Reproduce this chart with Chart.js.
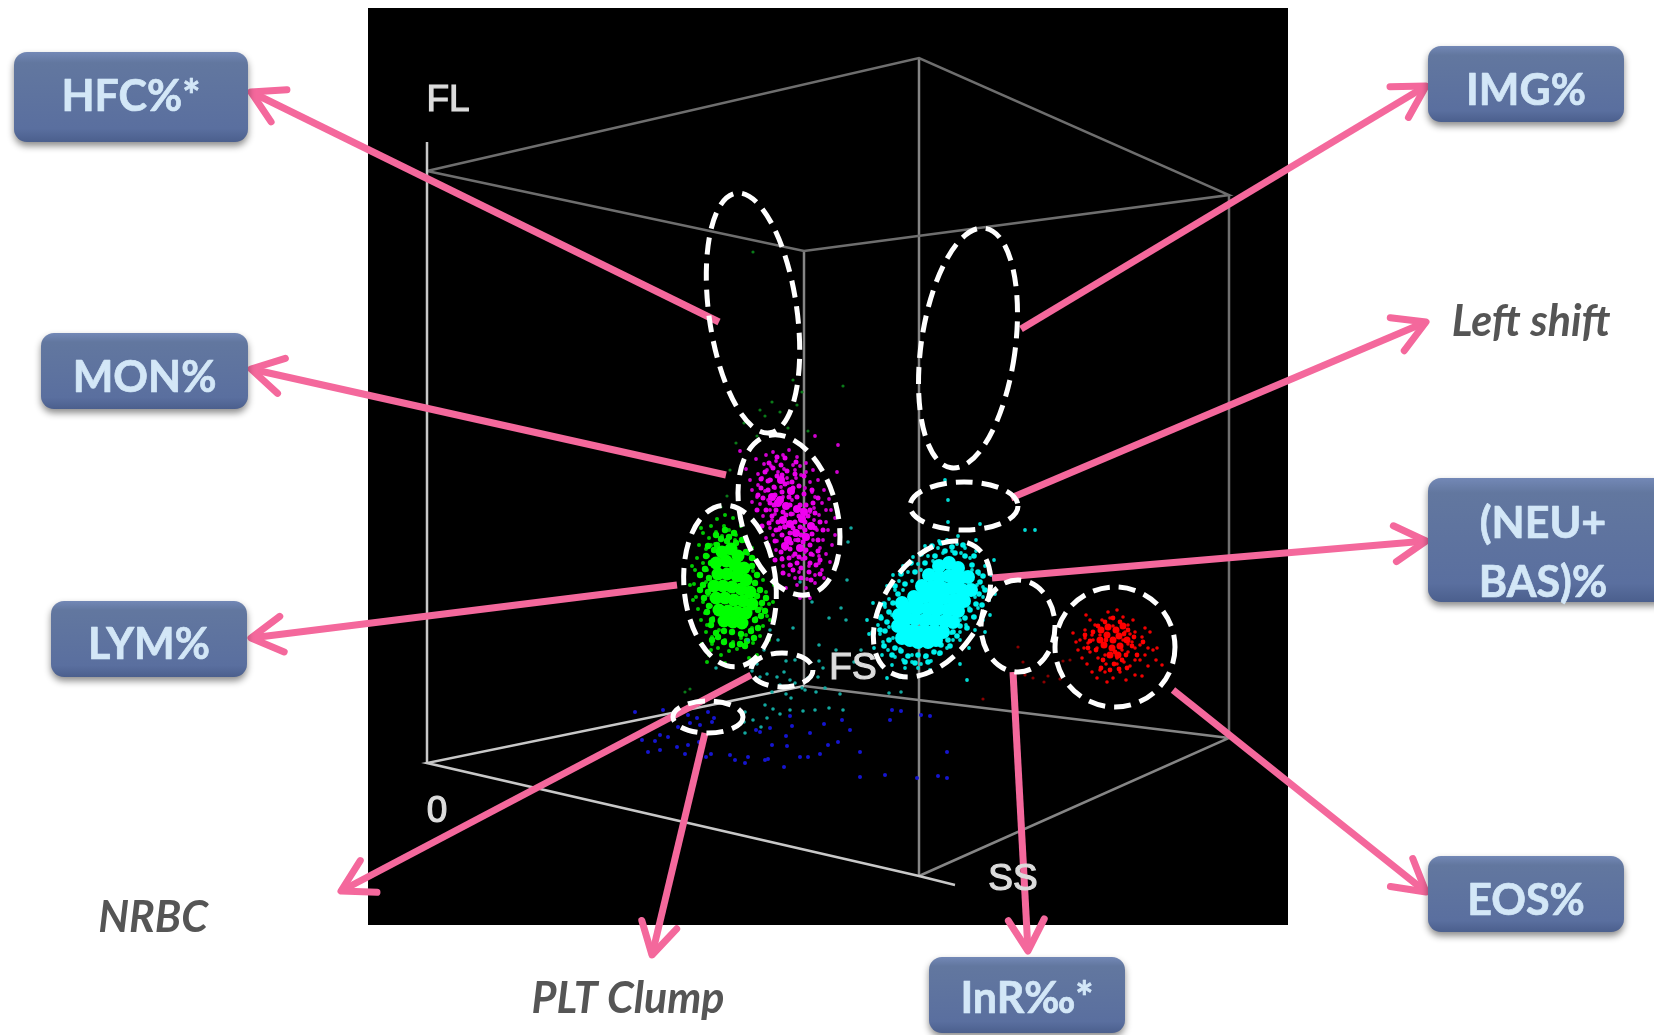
<!DOCTYPE html>
<html><head><meta charset="utf-8">
<style>html,body{margin:0;padding:0;background:#fff}canvas{display:block;filter:blur(0.6px)}</style>
<script src="https://cdn.jsdelivr.net/npm/chart.js@4/dist/chart.umd.min.js"></script>
</head><body><canvas id="c" width="1654" height="1035"></canvas>
<script>
const axisLabels=[['FL',448,101],['0',437,812],['FS',853,669],['SS',1013,880]];
const cubeBack=[[427,171],[919,58],[1229,195],[804,251],[427,171]];
const cubeEdgeA=[[919,58],[919,876]];
const cubeEdgeB=[[1229,195],[1229,738]];
const cubeEdgeC=[[804,251],[804,686]];
const flAxis=[[427,142],[427,763]];
const floorFar=[[804,686],[1229,738],[919,876]];
const floorNear=[[804,686],[427,763],[919,876],[955,885]];

const lymCore=[[722,552],[731,549],[738,556],[716,563],[726,561],[735,565],[744,568],[718,574],[727,574],[737,576],[746,580],[714,586],[723,586],[732,587],[741,589],[750,592],[716,598],[725,598],[734,600],[743,601],[752,604],[719,610],[728,611],[737,612],[746,613],[724,621],[733,622],[742,623]];
const lymMid=[[716,535],[725,530],[734,533],[742,540],[708,546],[717,545],[727,541],[736,543],[746,552],[752,558],[706,556],[711,563],[752,566],[757,575],[705,569],[709,578],[755,583],[760,590],[703,585],[708,592],[757,596],[762,603],[704,598],[709,606],[758,610],[761,616],[707,612],[712,620],[755,620],[758,628],[711,625],[716,633],[751,631],[754,638],[718,637],[724,631],[732,632],[741,634],[747,641],[724,642],[732,645],[740,644],[714,550],[721,539],[729,537],[700,590],[700,575],[766,598],[765,611],[712,640],[745,646]];
const lymPoints=[[711,526],[717,519],[725,515],[733,518],[741,526],[703,533],[709,538],[716,532],[722,536],[729,530],[736,535],[745,541],[752,548],[699,545],[706,549],[711,545],[748,554],[756,560],[760,568],[697,558],[703,563],[708,556],[753,571],[763,580],[695,570],[701,576],[707,570],[756,584],[766,592],[694,584],[700,589],[706,582],[758,596],[769,604],[696,597],[703,602],[708,595],[761,608],[767,616],[698,609],[705,613],[711,606],[756,618],[763,626],[701,620],[707,625],[713,618],[752,628],[760,636],[706,632],[712,637],[719,630],[746,635],[753,643],[712,644],[718,648],[725,640],[733,642],[741,638],[721,655],[729,651],[737,649],[745,647],[709,655],[702,644],[690,585],[773,602],[770,620],[769,640],[725,663],[707,662],[735,540],[724,526],[715,544],[693,600],[711,650],[749,658],[757,655],[692,566],[701,528],[774,585]];
const hfcPoints=[[753,252],[780,412],[802,392],[843,386],[744,423],[765,416],[788,428],[772,402],[797,405],[736,443],[727,496],[721,507],[730,470],[808,431],[793,380],[786,420],[757,436],[760,410],[685,692],[690,689]];

const monCore=[[781,480],[791,491],[778,503],[786,506],[797,509],[783,520],[790,524],[802,519],[811,526],[796,533],[806,537],[788,540],[800,548],[785,546],[780,500],[772,497],[804,512]];
const monMid=[[765,472],[773,468],[781,465],[787,471],[795,474],[770,480],[777,476],[785,484],[792,482],[799,486],[761,488],[768,490],[774,487],[782,492],[789,497],[797,497],[804,494],[763,498],[770,503],[776,510],[783,512],[791,514],[799,516],[806,505],[813,503],[766,510],[772,516],[778,522],[785,527],[793,528],[800,527],[808,516],[815,513],[769,523],[776,530],[782,535],[790,533],[798,540],[805,530],[812,534],[820,522],[823,530],[775,541],[781,552],[790,549],[795,554],[803,542],[810,545],[818,540],[782,559],[789,558],[797,563],[805,558],[811,554],[818,551],[793,570],[801,568],[809,572],[816,565],[801,578],[811,580],[820,574],[777,457],[769,463],[761,479],[758,495],[785,458],[796,462],[804,476],[812,490],[818,498],[806,550],[783,573],[775,560],[768,545],[762,526],[757,510],[790,505],[800,505],[810,510],[786,515],[795,522],[775,495],[768,481],[782,475],[793,488],[805,522],[815,528],[801,535],[791,543],[780,528],[774,505],[799,557],[810,563],[790,565],[820,560]];
const monPoints=[[773,452],[767,470],[776,461],[783,455],[789,450],[797,457],[806,463],[813,470],[756,459],[762,478],[750,480],[752,490],[758,485],[771,480],[784,469],[793,465],[801,475],[810,482],[818,480],[824,490],[829,499],[757,497],[765,491],[770,510],[760,504],[752,502],[763,516],[772,520],[779,530],[770,528],[766,538],[777,541],[785,549],[793,556],[802,559],[809,566],[819,563],[826,554],[832,545],[823,540],[817,530],[826,522],[835,518],[814,508],[822,503],[831,510],[819,515],[815,497],[805,488],[796,478],[787,478],[778,472],[771,466],[766,455],[781,487],[792,500],[802,510],[810,512],[773,535],[782,558],[791,565],[799,572],[807,579],[815,575],[822,570],[830,562],[797,585],[806,588],[815,583],[789,575],[783,566],[776,550],[769,547],[813,555],[820,548],[805,552],[795,540],[784,526],[775,514],[768,500],[800,466],[812,492],[826,510],[828,530],[835,535],[813,540],[803,528],[793,514],[783,497],[775,488],[764,464],[758,474],[746,469],[740,451],[815,436],[838,445],[837,472],[795,470],[788,483],[806,472],[814,520],[819,556],[795,578],[786,588],[824,578],[810,598],[800,598]];

const neuCore=[[939,566],[949,563],[958,568],[929,575],[939,577],[949,576],[959,579],[968,577],[922,586],[932,587],[942,588],[952,588],[962,590],[971,590],[914,597],[924,597],[934,598],[944,598],[954,600],[964,601],[908,608],[918,608],[928,609],[938,609],[948,610],[958,611],[905,619],[915,619],[925,620],[935,620],[945,621],[953,622],[906,630],[914,631],[924,631],[934,631],[943,632],[910,640],[918,642],[928,642],[936,640],[902,603],[899,615],[898,626],[902,638]];
const neuMid=[[945,551],[955,553],[965,556],[935,556],[925,563],[915,572],[972,565],[978,572],[980,582],[905,584],[898,594],[979,594],[976,604],[970,610],[893,603],[889,612],[965,618],[960,626],[887,622],[885,631],[953,632],[948,640],[889,640],[895,648],[941,645],[934,652],[901,651],[908,656],[918,655],[926,656],[952,547],[963,545],[932,546],[921,554],[911,563],[901,574],[895,586],[884,604],[881,618],[880,630],[884,646],[892,655],[905,662],[915,663],[928,662],[940,653],[950,646],[957,636],[967,628],[974,617],[982,605],[985,590],[983,576],[974,556],[941,543]];
const neuPoints=[[947,540],[957,544],[965,548],[976,551],[938,548],[928,556],[918,564],[908,572],[899,581],[895,590],[889,599],[885,607],[881,616],[878,625],[880,634],[883,642],[888,650],[895,657],[903,660],[912,662],[921,664],[931,661],[939,654],[947,648],[953,640],[960,632],[966,625],[973,617],[978,608],[983,597],[983,587],[979,574],[985,566],[970,558],[961,553],[952,551],[943,553],[933,561],[921,570],[912,581],[903,590],[897,603],[892,615],[889,627],[893,638],[900,649],[912,655],[925,657],[940,645],[951,633],[960,620],[969,608],[975,597],[977,585],[972,570],[887,590],[873,603],[867,620],[869,634],[874,648],[882,666],[887,678],[900,677],[960,664],[967,680],[969,648],[985,632],[990,615],[989,600],[995,594],[1025,530],[1035,530],[948,522],[980,524],[948,500],[945,480],[994,560],[887,586],[876,615],[882,655],[892,665],[905,668],[918,668],[930,670],[960,640],[975,630],[983,620],[991,575],[976,540],[958,536],[939,541],[925,546],[913,557],[903,566],[893,575]];
const scatterTeal=[[851,528],[848,542],[847,580],[846,620],[800,582],[793,628],[812,602],[829,618],[841,608],[819,645],[795,660],[823,668],[808,678],[836,650],[854,662],[861,650],[872,632],[889,693],[901,692],[819,661],[818,677],[784,672],[790,680],[795,683],[802,688],[786,694],[791,698],[805,690],[816,692],[825,688],[840,694],[843,710],[829,708],[815,710],[803,711],[790,710],[780,714],[765,705],[767,718],[753,720],[761,727],[745,712],[744,722],[745,733],[773,709],[707,652],[716,668],[748,640],[757,664],[770,630],[778,640],[764,650],[752,671],[760,677],[767,674],[777,677],[780,685],[772,692],[786,661]];

const eosCore=[[1113,640],[1107,635],[1119,636],[1104,645],[1112,648],[1120,646],[1116,630],[1108,627],[1123,626],[1100,640],[1127,640],[1110,655],[1118,655],[1101,630]];
const eosMid=[[1113,618],[1120,622],[1105,622],[1098,626],[1128,630],[1134,637],[1093,632],[1090,641],[1132,646],[1096,650],[1126,655],[1103,660],[1114,664],[1122,660],[1137,655],[1088,648],[1110,670],[1119,669],[1127,668],[1101,668],[1106,640],[1124,634],[1115,652],[1085,635],[1143,642]];
const eosPoints=[[1117,610],[1123,617],[1133,620],[1128,625],[1135,632],[1142,637],[1148,648],[1153,650],[1157,648],[1145,655],[1140,660],[1148,666],[1142,676],[1135,675],[1126,680],[1120,672],[1113,678],[1107,682],[1100,670],[1092,672],[1087,664],[1082,658],[1076,642],[1073,633],[1085,630],[1092,635],[1095,625],[1102,620],[1110,618],[1125,632],[1132,642],[1128,652],[1135,660],[1124,662],[1117,664],[1106,664],[1098,658],[1090,652],[1084,648],[1080,640],[1088,643],[1097,648],[1105,655],[1122,650],[1130,634],[1140,645],[1090,620],[1086,615],[1150,632],[1156,660],[1162,665],[1145,628],[1113,626],[1130,666],[1097,678],[1105,672],[1093,640],[1108,612],[1078,650],[1085,638],[1135,648],[1123,640],[1100,635],[1117,658],[1128,644]];
const eosFaint=[[1018,647],[1025,675],[1023,662],[1063,661],[1070,660],[1033,678],[1048,676],[1044,682],[1060,679],[983,699],[1014,698]];

const bluePoints=[[635,712],[663,710],[688,715],[697,718],[690,723],[700,725],[712,722],[714,718],[708,712],[678,727],[668,737],[660,735],[642,740],[655,741],[677,747],[688,745],[699,742],[701,750],[711,754],[706,757],[648,752],[660,750],[685,754],[730,755],[735,760],[745,763],[748,757],[765,760],[768,759],[784,767],[800,757],[808,757],[820,754],[828,745],[838,742],[787,746],[772,745],[760,732],[756,730],[786,736],[810,733],[824,724],[792,726],[790,716],[860,752],[860,777],[885,775],[930,716],[890,720],[892,710],[901,711],[917,778],[947,778],[938,776],[947,752],[921,715],[842,720],[770,728],[850,730]];

const ellipses=[[753,313,44,121,-8],[968,348,47,121,8],[789,515,48,82,-15],[730,586,46,81,-5],[782,670,31,17,0],[708,717,35,16,0],[964,506,54,24,0],[932,609,48,76,35],[1018,626,37,46,0],[1115,647,60,60,0]];

const arrowHFC=[[719,322],[251,92]];
const arrowMON=[[726,475],[251,369]];
const arrowLYM=[[677,585],[251,638]];
const arrowNRBC=[[751,675],[341,891]];
const arrowPLT=[[705,733],[652,955]];
const arrowInR=[[1013,672],[1028,951]];
const arrowEOS=[[1173,690],[1426,892]];
const arrowNEU=[[992,578],[1426,541]];
const arrowLeft=[[1011,498],[1426,322]];
const arrowIMG=[[1021,329],[1426,86]];

const boxes=[['HFC%*',14,52,234,90,-1],['MON%',41,333,207,76,6],['LYM%',51,601,196,76,5],['IMG%',1428,46,196,76,6],['(NEU+\nBAS)%',1428,478,240,124,13],['EOS%',1428,856,196,76,6],['InR‰*',929,957,196,76,3]];
const notes=[['NRBC',153,918],['PLT Clump',628,999],['Left shift',1531,322]];

const xy=a=>a.map(p=>({x:p[0],y:p[1]}));
const line=(d,c,w)=>({type:'line',data:xy(d),borderColor:c,borderWidth:w,pointRadius:0,showLine:true,tension:0,fill:false});
const dots=(d,c,r)=>({type:'scatter',data:xy(d),backgroundColor:c,borderWidth:0,pointRadius:r,pointHoverRadius:r,showLine:false});
const arrows=[arrowHFC,arrowMON,arrowLYM,arrowNRBC,arrowPLT,arrowInR,arrowEOS,arrowNEU,arrowLeft,arrowIMG];
const PINK='#f4689c';

const sketch={id:'sketch',
 beforeDatasetsDraw(ch){
  const {ctx,scales:{x,y}}=ch;
  ctx.save();ctx.fillStyle='#000';
  ctx.fillRect(x.getPixelForValue(368),y.getPixelForValue(8),x.getPixelForValue(1288)-x.getPixelForValue(368),y.getPixelForValue(925)-y.getPixelForValue(8));
  ctx.restore();
 },
 afterDatasetsDraw(ch){
  const {ctx,scales:{x,y}}=ch;
  const X=v=>x.getPixelForValue(v),Y=v=>y.getPixelForValue(v);
  ctx.save();
  ctx.fillStyle='#dcdcdc';ctx.strokeStyle='#dcdcdc';ctx.lineWidth=1.2;ctx.font='37px "Liberation Sans"';ctx.textAlign='center';ctx.textBaseline='middle';
  axisLabels.forEach(l=>{ctx.fillText(l[0],X(l[1]),Y(l[2]));ctx.strokeText(l[0],X(l[1]),Y(l[2]));});
  ctx.strokeStyle='#fff';ctx.lineWidth=5;ctx.setLineDash([17,9]);
  ellipses.forEach(e=>{ctx.beginPath();ctx.ellipse(X(e[0]),Y(e[1]),e[2],e[3],e[4]*Math.PI/180,0,2*Math.PI);ctx.stroke();});
  ctx.setLineDash([]);
  ctx.strokeStyle=PINK;ctx.lineWidth=7;ctx.lineCap='round';ctx.lineJoin='round';
  arrows.forEach(a=>{
   const ex=X(a[1][0]),ey=Y(a[1][1]),t=Math.atan2(ey-Y(a[0][1]),ex-X(a[0][0]));
   ctx.beginPath();
   ctx.moveTo(ex+36*Math.cos(t+2.62),ey+36*Math.sin(t+2.62));
   ctx.lineTo(ex,ey);
   ctx.lineTo(ex+36*Math.cos(t-2.62),ey+36*Math.sin(t-2.62));
   ctx.stroke();
  });
  boxes.forEach(b=>{
   const bx=X(b[1]),by=Y(b[2]),w=b[3],h=b[4];
   ctx.save();
   ctx.shadowColor='rgba(0,0,0,.45)';ctx.shadowBlur=7;ctx.shadowOffsetY=4;
   const g=ctx.createLinearGradient(0,by,0,by+h);
   g.addColorStop(0,'#7388b6');g.addColorStop(.12,'#62779f');g.addColorStop(.85,'#5a6f9f');g.addColorStop(1,'#4b5f8d');
   ctx.fillStyle=g;ctx.beginPath();ctx.roundRect(bx,by,w,h,13);ctx.fill();
   ctx.restore();
   ctx.fillStyle='#d3e7f7';ctx.strokeStyle='#d3e7f7';ctx.lineWidth=.7;ctx.font='bold 43px Lato';ctx.textAlign='center';ctx.textBaseline='middle';
   const ls=b[0].split('\n');
   ls.forEach((s,i)=>{const tx=bx+(ls.length>1?115:w/2),ty=by+h/2+(i-(ls.length-1)/2)*59+1+b[5];ctx.fillText(s,tx,ty);ctx.strokeText(s,tx,ty);});
  });
  ctx.fillStyle='#555';ctx.font='italic bold 43px Lato';
  notes.forEach(n=>ctx.fillText(n[0],X(n[1]),Y(n[2])));
  ctx.restore();
 }};

new Chart(document.getElementById('c'),{
 data:{datasets:[
  ...arrows.map(a=>line(a,PINK,7)),
  dots(eosCore,'#ff0000',3.5),dots(eosMid,'#ff0000',2.4),dots(eosPoints,'#f00000',1.8),dots(eosFaint,'#8a0000',1.6),
  dots(neuCore,'#00ffff',7),dots(neuMid,'#00f0ec',2.8),dots(neuPoints,'#00dcd6',1.9),dots(scatterTeal,'#12a89f',1.8),
  dots(monCore,'#f000f0',4),dots(monMid,'#e800e8',2.5),dots(monPoints,'#d000d0',1.9),
  dots(lymCore,'#00ff00',6.5),dots(lymMid,'#00f000',3.2),dots(lymPoints,'#00c800',2),dots(hfcPoints,'#0a7a18',1.6),
  dots(bluePoints,'#1515d0',2),
  line(flAxis,'#c8c8c8',2.5),line(floorNear,'#c8c8c8',2.5),line(floorFar,'#858585',2.5),
  line(cubeBack,'#6e6e6e',2.5),line(cubeEdgeA,'#858585',2.5),line(cubeEdgeB,'#707070',2.5),line(cubeEdgeC,'#858585',2.5)
 ]},
 options:{responsive:false,animation:false,events:[],
  layout:{padding:0,autoPadding:false},
  plugins:{legend:{display:false},tooltip:{enabled:false}},
  scales:{x:{type:'linear',min:0,max:1654,display:false},y:{type:'linear',min:0,max:1035,reverse:true,display:false}}
 },
 plugins:[sketch]
});
</script></body></html>
